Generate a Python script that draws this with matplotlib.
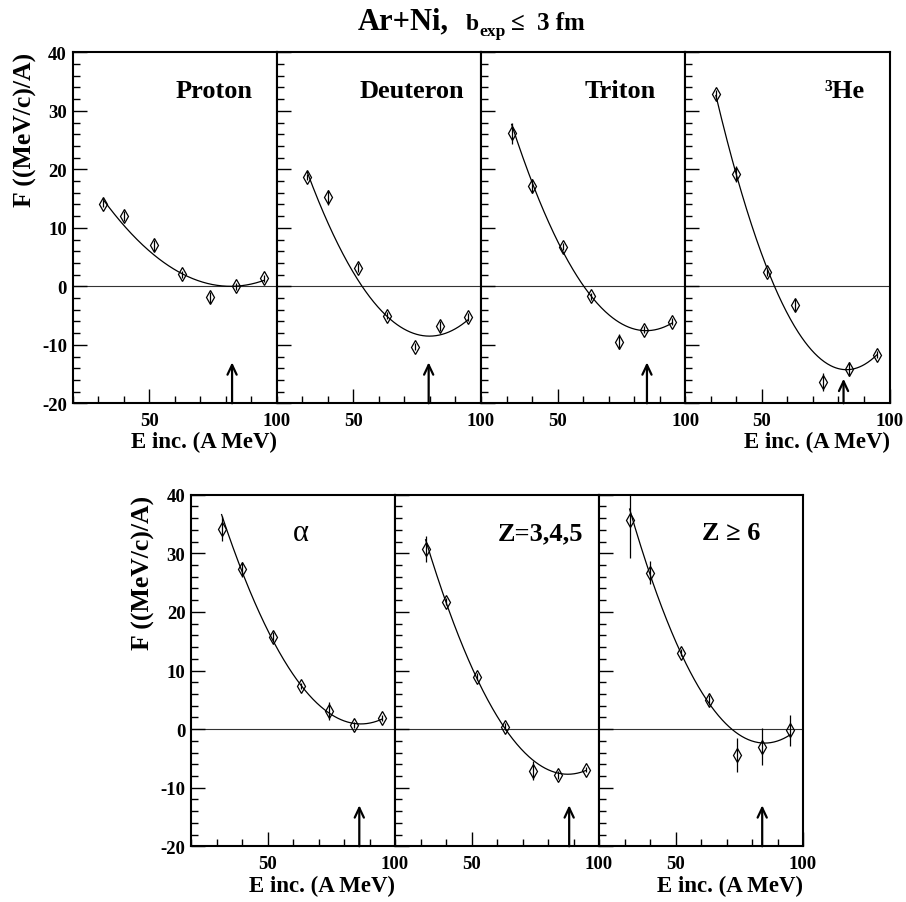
import numpy as np
import matplotlib
matplotlib.use("Agg")
import matplotlib.pyplot as plt
from matplotlib.ticker import MultipleLocator

plt.rcParams['font.family'] = ['Liberation Serif', 'DejaVu Serif']
plt.rcParams['font.weight'] = 'bold'
plt.rcParams['axes.unicode_minus'] = False

# Beam energies (A MeV)
energy = [32, 40, 52, 63, 74, 84, 95]

# Flow parameter F ((MeV/c)/A) and errors
proton = [14.1, 12.0, 7.0, 2.1, -1.9, 0.0, 1.4]
proton_err = [0.6, 0.9, 0.9, 0.6, 0.9, 0.6, 0.6]
deuteron = [18.7, 15.2, 3.2, -5.0, -10.3, -6.8, -5.2]
deuteron_err = [0.5, 1.3, 0.8, 0.6, 0.6, 0.9, 0.7]
triton = [26.2, 17.2, 6.8, -1.7, -9.5, -7.4, -6.1]
triton_err = [1.8, 1.2, 0.6, 0.6, 1.3, 0.6, 0.6]
helium3 = [32.8, 19.2, 2.4, -3.2, -16.4, -14.1, -11.7]
helium3_err = [0.8, 1.3, 0.6, 1.1, 1.5, 1.2, 0.6]
alpha = [34.2, 27.3, 15.8, 7.4, 3.1, 0.7, 1.9]
alpha_err = [2.1, 1.3, 0.7, 0.5, 1.6, 0.5, 0.5]
z345 = [30.7, 21.7, 8.9, 0.4, -7.1, -7.8, -6.9]
z345_err = [2.2, 0.6, 0.6, 0.6, 1.6, 0.7, 0.5]
zge6 = [35.7, 26.7, 13.0, 5.0, -4.4, -3.0, -0.2]
zge6_err = [6.5, 2.0, 0.6, 0.9, 2.9, 3.2, 2.6]

# Balance energies (arrows) and arrow tips
e_bal = [82.5, 79.5, 85.0, 82.0, 86.0, 88.3, 84.0]
arrow_tip = [-13.0, -13.0, -13.0, -15.8, -13.0, -13.0, -13.0]

labels = ['Proton', 'Deuteron', 'Triton', '\u00b3He', '\u03b1', 'Z=3,4,5', 'Z \u2265 6']
series = [proton, deuteron, triton, helium3, alpha, z345, zge6]
errors = [proton_err, deuteron_err, triton_err, helium3_err, alpha_err, z345_err, zge6_err]

# label anchor (left edge, in data coords)
label_x = [60.4, 52.4, 60.7, 74.6, 60.1, 60.1, 60.3]

W, H = 906, 903
fig = plt.figure(figsize=(W / 100, H / 100), dpi=100)


def px_axes(left, top, width, height):
    return fig.add_axes([left / W, 1 - (top + height) / H, width / W, height / H])


# panel geometry in pixels
top_row = [(72.5 + i * 204.25, 53.3, 204.25, 351.0) for i in range(4)]
bot_row = [(191.0 + i * 204.0, 495.7, 204.0, 351.6) for i in range(3)]
boxes = top_row + bot_row

for i, box in enumerate(boxes):
    ax = px_axes(*box)
    E = np.array(energy, dtype=float)
    F = np.array(series[i])
    err = np.array(errors[i])

    ax.axhline(0, color='#333333', lw=0.8, zorder=1)

    # weighted 2nd order polynomial fit, like the original
    coef = np.polyfit(E, F, 2, w=1.0 / err)
    ef = np.linspace(E.min(), E.max(), 200)
    ax.plot(ef, np.polyval(coef, ef), color='black', lw=0.9, zorder=2)

    ax.errorbar(E, F, yerr=err, fmt='none', ecolor='black', elinewidth=0.9, zorder=3)
    ax.plot(E, F, 'd', mfc='none', mec='black', ms=7.5, mew=0.9, zorder=4)

    ax.annotate('', xy=(e_bal[i], arrow_tip[i]), xytext=(e_bal[i], -20),
                arrowprops=dict(arrowstyle='->,head_length=0.7,head_width=0.33',
                                lw=1.6, color='black', shrinkA=0, shrinkB=0))

    if labels[i] == '\u03b1':
        ax.text(label_x[i], 33.5, labels[i], fontsize=22, fontweight='normal',
                ha='left', va='center')
    else:
        ax.text(label_x[i], 33.5, labels[i], fontsize=19, fontweight='bold',
                ha='left', va='center')

    ax.set_xlim(20, 100)
    ax.set_ylim(-20, 40)
    ax.xaxis.set_major_locator(MultipleLocator(50))
    ax.xaxis.set_minor_locator(MultipleLocator(10))
    ax.yaxis.set_major_locator(MultipleLocator(10))
    ax.yaxis.set_minor_locator(MultipleLocator(2))
    ax.tick_params(which='both', direction='in', top=False, right=False,
                   width=1.0, labelsize=13.5)
    ax.tick_params(which='major', length=10)
    ax.tick_params(which='minor', length=5)
    ax.tick_params(axis='x', pad=6.5)
    ax.tick_params(axis='y', pad=4)
    for s in ax.spines.values():
        s.set_linewidth(1.5)
    if i not in (0, 4):
        ax.set_yticklabels([])

# axis titles
for x_right, y_c in [(276.7, 442), (889.5, 442), (395.3, 886), (803.0, 886)]:
    fig.text(x_right / W, 1 - y_c / H, 'E inc. (A MeV)', fontsize=16.5,
             fontweight='bold', ha='right', va='center')
for x_c, y_top in [(25, 53.3), (143, 495.7)]:
    fig.text(x_c / W, 1 - y_top / H, 'F ((MeV/c)/A)', fontsize=18.5,
             fontweight='bold', rotation=90, ha='center', va='top')

# title
base = 29.5
fig.text(358 / W, 1 - base / H, 'Ar+Ni,', fontsize=22, fontweight='bold',
         ha='left', va='baseline')
fig.text(466 / W, 1 - base / H, 'b', fontsize=17, fontweight='bold',
         ha='left', va='baseline')
fig.text(479 / W, 1 - (base + 6.5) / H, 'exp', fontsize=12.5, fontweight='bold',
         ha='left', va='baseline')
fig.text(511 / W, 1 - base / H, '\u2264', fontsize=18, fontweight='bold',
         ha='left', va='baseline')
fig.text(537 / W, 1 - base / H, '3 fm', fontsize=18, fontweight='bold',
         ha='left', va='baseline')

fig.savefig('out.png', dpi=100)
